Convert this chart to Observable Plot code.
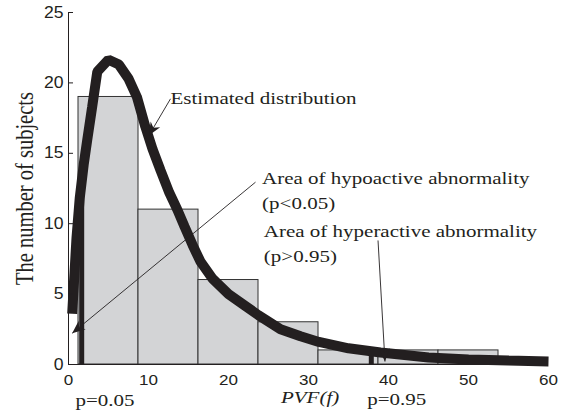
<!DOCTYPE html>
<html><head><meta charset="utf-8">
<script src="https://cdn.jsdelivr.net/npm/d3@7"></script>
<script src="https://cdn.jsdelivr.net/npm/@observablehq/plot@0.6"></script>
<style>body{margin:0;background:#fff;} svg{display:block}</style>
</head><body><div id="chart"></div>
<script>
// Histogram
const binCenters = [5, 12.5, 20, 27.5, 35, 42.5, 50];
const binCounts = [19, 11, 6, 3, 1, 1, 1];
const binWidth = 7.5;

// Estimated distribution
const curveX = [0.46, 0.75, 1.0, 1.4, 1.9, 2.33, 2.96, 3.6, 5.0, 6.3, 7.5, 8.55, 9.6, 10.5, 11.5, 12.6, 13.6, 14.5, 15.5, 16.5, 18, 20, 22, 23.75, 26.5, 29, 31.3, 35, 39, 45, 50, 55, 60];
const curveY = [3.6, 6.5, 9.0, 11.8, 14.2, 15.9, 18.3, 20.8, 21.65, 21.3, 20.3, 19.0, 16.9, 15.3, 13.8, 12.2, 11.0, 9.8, 8.5, 7.3, 6.1, 5.0, 4.2, 3.5, 2.5, 2.0, 1.6, 1.15, 0.85, 0.5, 0.36, 0.28, 0.22];

// Threshold lines (p=0.05, p=0.95)
const thresholdX = [1.65, 37.85];
const thresholdTop = [12.6, 0.9];

// Axes
const xTicks = [0, 10, 20, 30, 40, 50, 60];
const yTicks = [0, 5, 10, 15, 20, 25];
const xLabel = "PVF(f)";
const yLabel = "The number of subjects";

// Annotations
const noteText = ["Estimated distribution", "Area of hypoactive abnormality", "(p<0.05)", "Area of hyperactive abnormality", "(p>0.95)", "p=0.05", "p=0.95"];
const noteX = [12.75, 24.2, 24.2, 24.42, 24.42, 0.875, 37.33];
const noteY = [18.51, 12.82, 11.04, 9.05, 7.3, -2.98, -2.85];

const arrowX1 = [12.75, 23.375, 38.69];
const arrowY1 = [18.87, 12.95, 8.81];
const arrowX2 = [10.04, 0.46, 39.56];
const arrowY2 = [16.26, 2.22, 0.21];

const ink = "#231f20";
const bars = binCenters.map((c, i) => ({x1: c - binWidth / 2, x2: c + binWidth / 2, y: binCounts[i]}));
const curve = curveX.map((x, i) => ({x, y: curveY[i]}));
const thresholds = thresholdX.map((x, i) => ({x, top: thresholdTop[i]}));
const notes = noteText.map((t, i) => ({text: t, x: noteX[i], y: noteY[i]}));
const arrows = arrowX1.map((x1, i) => ({x1, y1: arrowY1[i], x2: arrowX2[i], y2: arrowY2[i]}));

const plot = Plot.plot({
  width: 571, height: 413,
  marginLeft: 68, marginRight: 23, marginTop: 12, marginBottom: 49,
  x: {domain: [0, 60]},
  y: {domain: [0, 25]},
  style: {fontFamily: "Liberation Sans", fontSize: "16px", background: "#fff", color: ink, overflow: "visible"},
  marks: [
    Plot.rectY(bars, {x1: "x1", x2: "x2", y: "y", fill: "#d3d4d6", stroke: "#333333", strokeWidth: 1}),
    Plot.ruleX(thresholds, {x: "x", y1: 0, y2: "top", stroke: ink, strokeWidth: 5}),
    Plot.line(curve, {x: "x", y: "y", stroke: ink, strokeWidth: 10, strokeLinejoin: "miter", strokeLinecap: "butt"}),
    Plot.ruleX([0], {y1: 0, y2: 25, stroke: ink, strokeWidth: 1}),
    Plot.ruleY([0], {x1: 0, x2: 60, stroke: ink, strokeWidth: 1}),
    Plot.ruleY(yTicks, {y: d => d, x1: 0, x2: 0, insetRight: -5, stroke: ink, strokeWidth: 1}),
    Plot.axisX(xTicks, {tickSize: 0, tickPadding: 9, label: null, fontSize: 15.5}),
    Plot.axisY(yTicks, {tickSize: 0, tickPadding: 5, label: null, fontSize: 16}),
    Plot.link(arrows, {x1: "x1", y1: "y1", x2: "x2", y2: "y2", stroke: ink, strokeWidth: 0.9, markerEnd: "arrow"}),
    Plot.text(notes, {x: "x", y: "y", text: "text", textAnchor: "start", lineAnchor: "bottom", fontFamily: "Liberation Serif", fontSize: 17.5}),
    Plot.text([xLabel], {x: 30.2, y: -2.76, text: d => d, textAnchor: "middle", lineAnchor: "bottom", fontStyle: "italic", fontFamily: "Liberation Serif", fontSize: 17.5}),
    Plot.text([yLabel], {x: -4.4, y: 12.5, text: d => d, rotate: -90, textAnchor: "middle", lineAnchor: "bottom", fontFamily: "Liberation Serif", fontSize: 20.5})
  ]
});

function stretch(t, s) {
  const tr = t.getAttribute("transform") || "";
  if (tr.includes("rotate(")) t.setAttribute("transform", tr.replace(/\s*rotate\(/, ` scale(${s},1) rotate(`));
  else t.setAttribute("transform", tr + ` scale(${s},1)`);
}
plot.querySelectorAll('g[aria-label="text"] text').forEach(t => stretch(t, 1.2));
plot.querySelectorAll('g[aria-label$="tick label"] text').forEach(t => stretch(t, 1.1));
plot.querySelectorAll("marker").forEach(m => {
  m.setAttribute("viewBox", "-14 -7 14 14");
  m.setAttribute("markerWidth", 14);
  m.setAttribute("markerHeight", 14);
  m.setAttribute("markerUnits", "userSpaceOnUse");
  m.setAttribute("refX", 0);
  m.setAttribute("refY", 0);
  m.setAttribute("orient", "auto");
  m.innerHTML = '<path d="M0,0L-13,-5.5L-9,0L-13,5.5Z" fill="' + ink + '" stroke="none"/>';
});
document.getElementById("chart").appendChild(plot);
</script>
</body></html>
